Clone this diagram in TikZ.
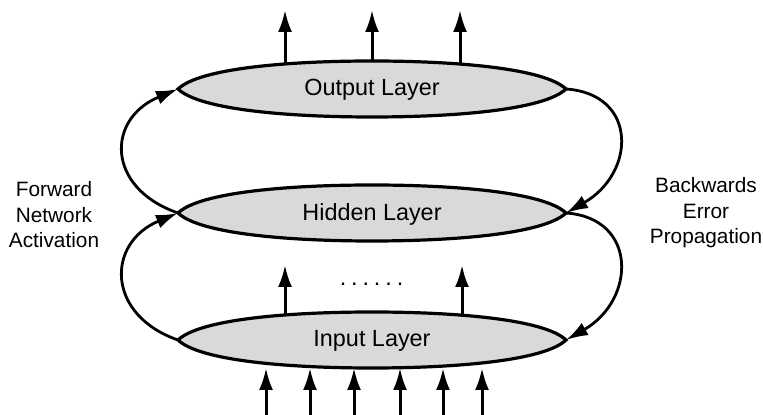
\documentclass[tikz,border=0pt]{standalone}
\usepackage{fontspec}
\setmainfont{Liberation Sans}
\usetikzlibrary{arrows.meta,calc}

\tikzset{
  layerlens/.style={fill=black!15, draw=black, line width=1.6pt},
  uparrow/.style={-{Latex[length=11pt,width=7pt]}, line width=1.5pt},
  looparrow/.style={-{Latex[length=11pt,width=7pt]}, line width=1.4pt},
  layerlabel/.style={font=\fontsize{11.7}{14}\selectfont},
  sidelabel/.style={align=center, font=\fontsize{10.4}{12.75}\selectfont},
}

\begin{document}
\begin{tikzpicture}[x=0.5pt,y=-0.5pt]
\useasboundingbox (0,0) rectangle (763,415);

\def\midx{372} % centre of the layers
\def\lensw{194} % half width
\def\lensh{28} % half height

% layer centres
\foreach \name/\y in {out/89, hid/213, inp/340}
    \coordinate (\name-c) at (\midx,\y);

% outputs
\foreach \dx in {-87, 0, 88}
    \draw[uparrow] ($(out-c)+(\dx,-20)$) -- ($(out-c)+(\dx,-79)$);

% input -> hidden
\foreach \dx in {-87, 90}
    \draw[uparrow] ($(inp-c)+(\dx,-20)$) -- ($(inp-c)+(\dx,-75)$);
\node[layerlabel, anchor=base] (dots) at (371.5,286)
    {.\kern2.45pt.\kern2.45pt.\kern2.45pt.\kern2.45pt.\kern2.45pt.};

% inputs
\foreach \dx in {-106, -62, -18, 28, 71, 110}
    \draw[uparrow] ($(inp-c)+(\dx,75)$) -- ($(inp-c)+(\dx,28)$);

% layers
\foreach \name/\y/\txt in {out/89/Output Layer, hid/213/Hidden Layer, inp/340/Input Layer} {
    \begin{scope}[shift={(\midx,\y)}]
        \path[layerlens] (-\lensw,0) .. controls (-172,-21) and (-82,-\lensh) .. (0,-\lensh)
            .. controls (82,-\lensh) and (172,-21) .. (\lensw,0)
            .. controls (172,21) and (82,\lensh) .. (0,\lensh)
            .. controls (-82,\lensh) and (-172,21) .. cycle;
        \coordinate (\name-w) at (-\lensw,0);
        \coordinate (\name-e) at (\lensw,0);
        \node[layerlabel] (\name) at (0,1) {\txt};
    \end{scope}
}

% forward activation
\draw[looparrow] (hid-w) .. controls +(-72,-25) and +(-72,30) .. (out-w);
\draw[looparrow] (inp-w) .. controls +(-72,-25) and +(-72,30) .. (hid-w);

% backwards error
\draw[looparrow] (out-e) .. controls +(72,5) and +(70,-40) .. (hid-e);
\draw[looparrow] (hid-e) .. controls +(72,5) and +(70,-40) .. (inp-e);

% side labels
\node[sidelabel] (fwd) at (54,215) {Forward\\Network\\Activation};
\node[sidelabel] (bwd) at (706,213) {Backwards\\Error\\Propagation};

\end{tikzpicture}
\end{document}
